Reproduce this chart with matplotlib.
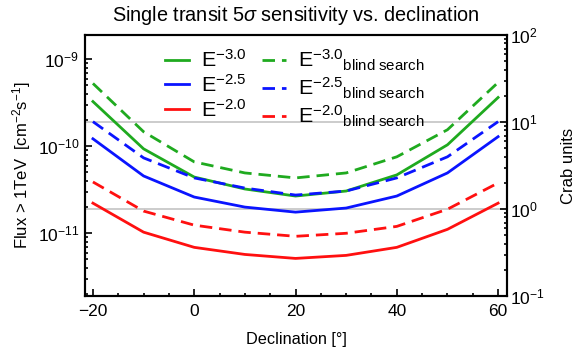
"""Single transit 5 sigma sensitivity vs. declination, with Crab-unit twin axis."""

import matplotlib

matplotlib.use("Agg")
import matplotlib.pyplot as plt  # noqa: E402
from matplotlib.ticker import LogLocator, MultipleLocator, NullFormatter  # noqa: E402

plt.rcParams["font.family"] = ["Liberation Sans", "DejaVu Sans"]
plt.rcParams["mathtext.fontset"] = "custom"
plt.rcParams["mathtext.rm"] = "Liberation Sans"
plt.rcParams["mathtext.it"] = "Liberation Sans:italic"
plt.rcParams["mathtext.bf"] = "Liberation Sans:bold"

declination = [-20, -10, 0, 10, 20, 30, 40, 50, 60]

# flux > 1 TeV [cm^-2 s^-1]
e30 = [3.27e-10, 9.35e-11, 4.43e-11, 3.23e-11, 2.68e-11, 3.06e-11, 4.69e-11, 1.04e-10, 3.64e-10]
e25 = [1.22e-10, 4.56e-11, 2.61e-11, 2.00e-11, 1.75e-11, 1.95e-11, 2.68e-11, 4.94e-11, 1.29e-10]
e20 = [2.22e-11, 1.03e-11, 6.89e-12, 5.71e-12, 5.14e-12, 5.57e-12, 6.89e-12, 1.11e-11, 2.22e-11]
e30_blind = [5.28e-10, 1.47e-10, 6.62e-11, 4.94e-11, 4.33e-11, 4.94e-11, 7.57e-11, 1.55e-10, 5.42e-10]
e25_blind = [1.92e-10, 7.36e-11, 4.33e-11, 3.31e-11, 2.75e-11, 3.06e-11, 4.33e-11, 7.57e-11, 1.92e-10]
e20_blind = [3.89e-11, 1.80e-11, 1.24e-11, 1.03e-11, 9.23e-12, 1.00e-11, 1.20e-11, 1.89e-11, 3.79e-11]

crab_flux = 1.9e-11  # flux of 1 Crab unit
crab_range = (0.1, 100)

green, blue, red = "#1faa1f", "#0a14ff", "#ff1010"

fig = plt.figure(figsize=(5.81, 3.56), dpi=100)
ax = fig.add_axes([0.146, 0.1685, 0.727, 0.733])

for c in (1, 10):
    ax.axhline(c * crab_flux, color="#c8c8c8", lw=1.3, zorder=0)

lw = 2.0
dash = (0, (4.5, 2.5))
ax.plot(declination, e30, color=green, lw=lw, label=r"E$^{-3.0}$")
ax.plot(declination, e25, color=blue, lw=lw, label=r"E$^{-2.5}$")
ax.plot(declination, e20, color=red, lw=lw, label=r"E$^{-2.0}$")
ax.plot(declination, e30_blind, color=green, lw=lw, ls=dash,
        label=r"E$^{-3.0}$$_{\mathrm{blind\ search}}$")
ax.plot(declination, e25_blind, color=blue, lw=lw, ls=dash,
        label=r"E$^{-2.5}$$_{\mathrm{blind\ search}}$")
ax.plot(declination, e20_blind, color=red, lw=lw, ls=dash,
        label=r"E$^{-2.0}$$_{\mathrm{blind\ search}}$")

ax.set_yscale("log")
ax.set_xlim(-21.6, 61.8)
ax.set_ylim(crab_range[0] * crab_flux, crab_range[1] * crab_flux)
ax.xaxis.set_major_locator(MultipleLocator(20))
ax.xaxis.set_minor_locator(MultipleLocator(5))
ax.yaxis.set_major_locator(LogLocator(base=10, numticks=10))
ax.yaxis.set_minor_locator(LogLocator(base=10, subs=range(2, 10), numticks=20))
ax.yaxis.set_minor_formatter(NullFormatter())

ax.set_xlabel("Declination [°]", fontsize=11.7, labelpad=9)
ax.set_ylabel(r"Flux > 1TeV  [cm$^{-2}$s$^{-1}$]", fontsize=12, labelpad=3)
ax.set_title(r"Single transit 5$\sigma$ sensitivity vs. declination", fontsize=14.3, pad=10)

ax2 = ax.twinx()
ax2.set_yscale("log")
ax2.set_ylim(*crab_range)
ax2.yaxis.set_major_locator(LogLocator(base=10, numticks=10))
ax2.yaxis.set_minor_locator(LogLocator(base=10, subs=range(2, 10), numticks=20))
ax2.yaxis.set_minor_formatter(NullFormatter())
ax2.set_ylabel("Crab units", fontsize=12, labelpad=12)

for a in (ax, ax2):
    for s in a.spines.values():
        s.set_linewidth(1.5)
    a.tick_params(which="both", direction="in", labelsize=12.5, width=1.2)
    a.tick_params(which="major", length=5)
    a.tick_params(which="minor", length=2.5)
ax.tick_params(axis="x", pad=6)
ax.tick_params(axis="y", pad=4)
ax2.tick_params(axis="y", pad=2)

ax.legend(loc="upper center", ncol=2, frameon=False, fontsize=15.4,
          handlelength=1.12, handletextpad=0.56, columnspacing=0.7,
          labelspacing=0.13, borderaxespad=0.0, bbox_to_anchor=(0.497, 0.985))

fig.savefig("out.png", dpi=100)
